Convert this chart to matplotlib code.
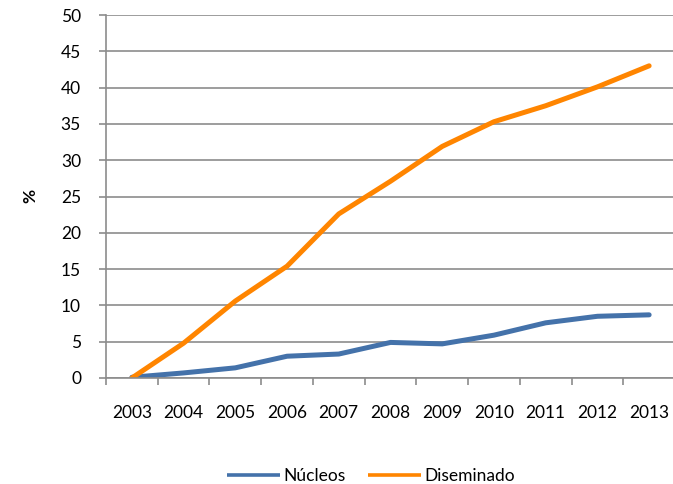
import numpy as np
import matplotlib
matplotlib.use("Agg")
import matplotlib.pyplot as plt

# datos (%)
years = ["2003", "2004", "2005", "2006", "2007", "2008", "2009", "2010", "2011", "2012", "2013"]
nucleos = [0.1, 0.7, 1.4, 3.0, 3.3, 4.9, 4.7, 5.9, 7.6, 8.5, 8.7]
diseminado = [0.0, 4.8, 10.6, 15.4, 22.6, 27.1, 31.9, 35.3, 37.5, 40.1, 43.0]
yticks = list(range(0, 55, 5))

plt.rcParams["font.family"] = ["Lato", "DejaVu Sans"]
GRAY = "#8c8c8c"
FS = 12.5

fig = plt.figure(figsize=(6.73, 4.84), dpi=100)
ax = fig.add_axes([106 / 673, 1 - 378 / 484, 569 / 673, 363 / 484])

x = np.arange(len(years))
ax.plot(x, nucleos, color="#4472aa", lw=3.6, solid_capstyle="round", solid_joinstyle="round", label="Núcleos")
ax.plot(x, diseminado, color="#ff8500", lw=3.6, solid_capstyle="round", solid_joinstyle="round", label="Diseminado")

ax.set_xlim(-0.5, len(years) - 0.5)
ax.set_ylim(0, 50)
ax.set_yticks(yticks)
ax.set_yticklabels([str(v) for v in yticks], fontsize=FS)
ax.yaxis.grid(True, color=GRAY, lw=1.2)
ax.set_axisbelow(True)

# ticks en los límites de categoría, etiquetas en el centro
ax.set_xticks(np.arange(-0.5, len(years), 1.0))
ax.set_xticklabels([])
ax.set_xticks(x, minor=True)
ax.set_xticklabels(years, minor=True, fontsize=FS)
ax.tick_params(axis="x", which="major", length=5, color=GRAY, width=1.2)
ax.tick_params(axis="x", which="minor", length=0, pad=19.5)
ax.tick_params(axis="y", length=5, color=GRAY, width=1.2, pad=13)

for s in ("top", "right"):
    ax.spines[s].set_visible(False)
for s in ("left", "bottom"):
    ax.spines[s].set_color(GRAY)
    ax.spines[s].set_linewidth(1.2)

fig.text(30 / 673, 1 - 196 / 484, "%", rotation=90, fontsize=FS, fontweight="bold",
         ha="center", va="center")

leg = fig.legend(loc="center", bbox_to_anchor=(371 / 673, 1 - 476 / 484), ncol=2, frameon=False,
                 fontsize=FS, handlelength=3.05, handletextpad=0.23, columnspacing=1.26)
for h in leg.get_lines():
    h.set_linewidth(2.6)
    h.set_solid_capstyle("butt")

fig.savefig("out.png", dpi=100)
